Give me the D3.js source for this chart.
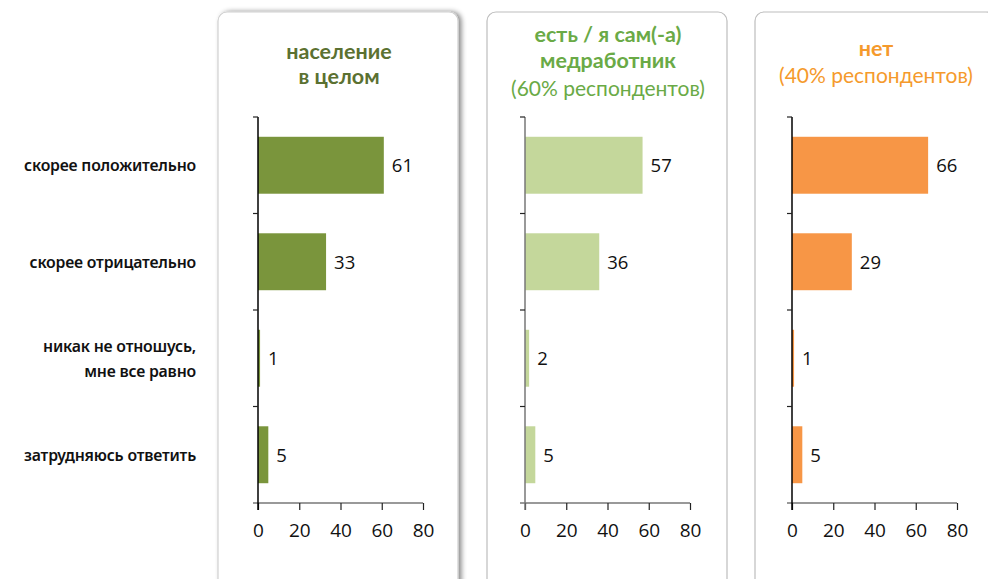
<!DOCTYPE html>
<html>
<head>
<meta charset="utf-8">
<script src="https://cdn.jsdelivr.net/npm/d3@7"></script>
<style>
  body { margin: 0; background: #fff; }
  svg { display: block; }
  .cat { font-family: "Noto Sans", sans-serif; font-size: 15.8px; font-weight: 600; fill: #111; letter-spacing: -0.2px; }
  .val { font-family: "Open Sans", sans-serif; font-size: 18.5px; fill: #111; }
  .tick text { font-family: "Open Sans", sans-serif; font-size: 19px; fill: #111; }
</style>
</head>
<body>
<div id="chart"></div>
<script>
const categories = [
  ['скорее положительно'],
  ['скорее отрицательно'],
  ['никак не отношусь,', 'мне все равно'],
  ['затрудняюсь ответить']
];
const totalValues = [61, 33, 1, 5];
const medValues = [57, 36, 2, 5];
const noValues = [66, 29, 1, 5];
const xTicks = [0, 20, 40, 60, 80];

const panels = [
  { values: totalValues, x0: 258, card: 218, bar: '#7a953c', yAxis: '#000',
    title: [{ t: 'население', b: true, y: 59 }, { t: 'в целом', b: true, y: 84 }], color: '#5b7131', shadow: true },
  { values: medValues, x0: 525, card: 487, bar: '#c4d79b', yAxis: '#777',
    title: [{ t: 'есть / я сам(-а)', b: true, y: 42 }, { t: 'медработник', b: true, y: 68 },
            { t: '(60% респондентов)', b: false, y: 96 }], color: '#6aaa46' },
  { values: noValues, x0: 792, card: 755, bar: '#f79646', yAxis: '#000',
    title: [{ t: 'нет', b: true, y: 56 }, { t: '(40% респондентов)', b: false, y: 83 }], color: '#f59a2c' }
];

const W = 988, H = 579;
const svg = d3.select('#chart').append('svg').attr('width', W).attr('height', H);

const defs = svg.append('defs');
const f = defs.append('filter').attr('id', 'sh').attr('x', '-5%').attr('y', '-5%').attr('width', '115%').attr('height', '115%');
f.append('feDropShadow').attr('dx', 3).attr('dy', 0).attr('stdDeviation', 2.5).attr('flood-color', '#000').attr('flood-opacity', 0.45);

// bars sit in the middle of each band
const y = d3.scaleBand().domain(d3.range(categories.length)).range([117, 503])
  .paddingInner(0.41).paddingOuter(0.205);
const yTicks = d3.scaleBand().domain(d3.range(categories.length)).range([117, 503]);

// category labels
svg.append('g').selectAll('text').data(categories).enter().append('text')
  .attr('class', 'cat')
  .attr('text-anchor', 'end')
  .attr('x', 196)
  .attr('y', (d, i) => y(i) + y.bandwidth() / 2 - (d.length - 1) * 12.5 + 6)
  .each(function(d) {
    d.forEach((line, j) => {
      d3.select(this).append('tspan').attr('x', 196).attr('dy', j ? 25 : 0).text(line);
    });
  });

panels.forEach(p => {
  const g = svg.append('g');
  g.append('rect')
    .attr('x', p.card).attr('y', 12).attr('width', 240).attr('height', 600)
    .attr('rx', 9)
    .attr('fill', '#fff')
    .attr('stroke', p.shadow ? '#d0d0d0' : '#bdbdbd')
    .attr('stroke-width', 1.2)
    .attr('filter', p.shadow ? 'url(#sh)' : null);

  const cx = p.card + 121;
  g.append('g').selectAll('text').data(p.title).enter().append('text')
    .attr('x', cx).attr('y', d => d.y)
    .attr('text-anchor', 'middle')
    .attr('fill', p.color)
    .style('font-family', 'Lato, sans-serif')
    .style('font-size', d => d.b ? '21.5px' : '21px')
    .style('font-weight', d => d.b ? 700 : 400)
    .text(d => d.t);

  const x = d3.scaleLinear().domain([0, 80]).range([p.x0, p.x0 + 165]);

  // bars
  g.append('g').selectAll('rect').data(p.values).enter().append('rect')
    .attr('x', x(0))
    .attr('y', (d, i) => y(i))
    .attr('width', d => x(d) - x(0))
    .attr('height', y.bandwidth())
    .attr('fill', p.bar);

  g.append('g').selectAll('text').data(p.values).enter().append('text')
    .attr('class', 'val')
    .attr('x', d => x(d) + 8)
    .attr('y', (d, i) => y(i) + y.bandwidth() / 2 + 7)
    .text(d => d);

  // x axis
  const xa = g.append('g').attr('transform', 'translate(0,503)')
    .call(d3.axisBottom(x).tickValues(xTicks).tickSize(7).tickPadding(14));
  xa.select('.domain').attr('stroke', '#777').attr('stroke-width', 1.5)
    .attr('d', `M${x(0) - 5},0H${x(80)}`);
  xa.selectAll('.tick line').attr('stroke', '#222').attr('stroke-width', 1.2);

  // y axis
  const ya = g.append('g');
  ya.append('line').attr('x1', x(0)).attr('x2', x(0)).attr('y1', 117).attr('y2', 510)
    .attr('stroke', p.yAxis).attr('stroke-width', 1.5);
  ya.selectAll('line.t').data(d3.range(categories.length)).enter().append('line')
    .attr('class', 't')
    .attr('x1', x(0) - 5).attr('x2', x(0))
    .attr('y1', d => yTicks(d)).attr('y2', d => yTicks(d))
    .attr('stroke', '#222').attr('stroke-width', 1.2);
});
</script>
</body>
</html>
